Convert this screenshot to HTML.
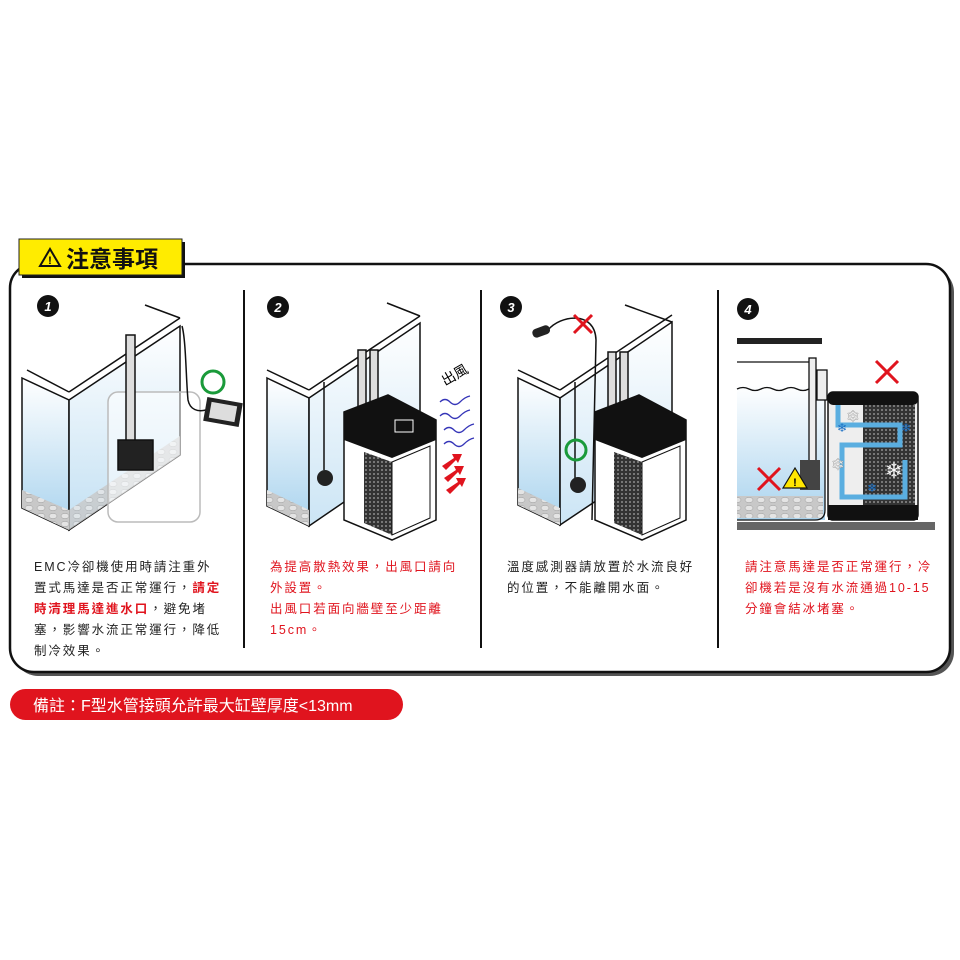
<!DOCTYPE html>
<html><head><meta charset="utf-8"><style>
html,body{margin:0;padding:0;background:#fff;}
svg{display:block;}
text{font-family:"Liberation Sans","Noto Sans CJK TC",sans-serif;}
</style></head><body>
<svg width="960" height="960" viewBox="0 0 960 960" xmlns="http://www.w3.org/2000/svg">
<defs>
<linearGradient id="w" x1="0" y1="0" x2="0" y2="1">
<stop offset="0" stop-color="#fff"/><stop offset="1" stop-color="#a9d3ee"/></linearGradient>
<pattern id="grid" width="4" height="4" patternUnits="userSpaceOnUse">
<rect width="4" height="4" fill="#333"/><rect x="1" y="1" width="2" height="2" fill="#777"/></pattern>
<pattern id="grav" width="12" height="8" patternUnits="userSpaceOnUse">
<rect width="12" height="8" fill="#c8c8c8"/><ellipse cx="5" cy="4" rx="4" ry="2.6" fill="#e4e4e4" stroke="#999" stroke-width=".5"/></pattern>
</defs>

<!-- main panel shadow + panel -->
<rect x="14" y="268" width="940" height="408" rx="24" fill="#555"/>
<rect x="10" y="264" width="940" height="408" rx="24" fill="#fff" stroke="#111" stroke-width="2.5"/>
<!-- title -->
<rect x="22" y="242" width="163" height="36" fill="#111"/>
<rect x="19" y="239" width="163" height="36" fill="#ffec00" stroke="#222" stroke-width="1"/>
<polygon points="40,266 50,249 60,266" fill="none" stroke="#111" stroke-width="2"/>
<text x="50" y="264" font-size="11" font-weight="bold" text-anchor="middle">!</text>
<text x="66" y="267" font-size="23" font-weight="bold" fill="#111">注意事項</text>

<!-- dividers -->
<g stroke="#111" stroke-width="2">
<line x1="244" y1="290" x2="244" y2="648"/>
<line x1="481" y1="290" x2="481" y2="648"/>
<line x1="718" y1="290" x2="718" y2="648"/>
</g>

<!-- number badges -->
<g font-size="13" font-weight="bold" fill="#fff" text-anchor="middle" font-style="italic">
<circle cx="48" cy="306" r="11" fill="#111"/><text x="48" y="311">1</text>
<circle cx="278" cy="307" r="11" fill="#111"/><text x="278" y="312">2</text>
<circle cx="511" cy="307" r="11" fill="#111"/><text x="511" y="312">3</text>
<circle cx="748" cy="309" r="11" fill="#111"/><text x="748" y="314">4</text>
</g>

<!-- PANEL 1 -->
<g stroke="#111" stroke-width="1.5" fill="none">
<polygon points="22,378 69,400 69,530 22,508" fill="url(#w)"/>
<polygon points="69,400 180,326 180,455 69,530" fill="url(#w)" fill-opacity=".7"/>
<polygon points="22,490 69,510 69,530 22,508" fill="url(#grav)" stroke="none"/>
<polygon points="69,510 180,436 180,455 69,530" fill="url(#grav)" stroke="none" opacity=".8"/>
<line x1="27" y1="370" x2="69" y2="392"/><line x1="69" y1="392" x2="180" y2="318"/>
<line x1="145" y1="305" x2="180" y2="318"/>
<rect x="108" y="392" width="92" height="130" rx="10" stroke="#bbb" fill="#fff" fill-opacity=".5"/>
<rect x="126" y="335" width="9" height="110" fill="#ddd"/>
<rect x="118" y="440" width="35" height="30" fill="#222"/>
<path d="M182,326 C186,340 186,380 188,400 C190,410 198,412 206,410"/>
</g>
<rect x="205" y="400" width="36" height="24" fill="#222" transform="rotate(10 223 412)"/>
<rect x="210" y="404" width="26" height="16" fill="#ddd" transform="rotate(10 223 412)"/>
<circle cx="213" cy="382" r="11" fill="none" stroke="#1a9a3a" stroke-width="3"/>

<!-- PANEL 2 -->
<g stroke="#111" stroke-width="1.5" fill="none">
<polygon points="267,378 309,398 309,526 267,506" fill="url(#w)"/>
<polygon points="309,398 420,323 420,450 309,526" fill="url(#w)" fill-opacity=".6"/>
<polygon points="267,490 309,510 309,526 267,506" fill="url(#grav)" stroke="none"/>
<line x1="267" y1="370" x2="309" y2="390"/><line x1="309" y1="390" x2="420" y2="316"/>
<line x1="387" y1="303" x2="420" y2="316"/>
<rect x="358" y="350" width="8" height="60" fill="#ddd"/><rect x="370" y="350" width="8" height="60" fill="#ddd"/>
<line x1="324" y1="382" x2="324" y2="470"/>
</g>
<circle cx="325" cy="478" r="8" fill="#222"/>
<path d="M344,412 L388,395 L436,420 L436,520 L392,540 L344,520 Z" fill="#fff" stroke="#111" stroke-width="1.5"/>
<path d="M344,412 L388,395 L436,420 L436,440 L392,458 L344,440 Z" fill="#111"/>
<polygon points="364,452 392,462 392,535 364,523" fill="url(#grid)"/>
<polygon points="392,462 430,446 430,518 392,535" fill="#fff" stroke="#111"/>
<rect x="395" y="420" width="18" height="12" fill="none" stroke="#fff"/>
<text x="445" y="386" font-size="14" transform="rotate(-30 445 386)">出風</text>
<g fill="none" stroke="#3535b8" stroke-width="1.3">
<path d="M440,402 q5,-5 10,0 t10,0 t10,-6"/><path d="M440,416 q5,-5 10,0 t10,0 t10,-6"/>
<path d="M444,430 q5,-5 10,0 t10,0 t10,-6"/><path d="M444,444 q5,-5 10,0 t10,0 t10,-6"/>
</g>
<g fill="#e0141e"><polygon points="442,466 454,458 452,454 462,454 458,463 456,460 446,470"/>
<polygon points="444,478 456,470 454,466 464,466 460,475 458,472 448,482"/>
<polygon points="446,490 458,482 456,478 466,478 462,487 460,484 450,494"/></g>

<!-- PANEL 3 -->
<g stroke="#111" stroke-width="1.5" fill="none">
<polygon points="518,378 560,398 560,525 518,505" fill="url(#w)"/>
<polygon points="560,398 672,322 672,450 560,525" fill="url(#w)" fill-opacity=".6"/>
<polygon points="518,488 560,508 560,525 518,505" fill="url(#grav)" stroke="none"/>
<line x1="518" y1="370" x2="560" y2="390"/><line x1="560" y1="390" x2="672" y2="315"/>
<line x1="625" y1="305" x2="672" y2="322"/>
<rect x="608" y="352" width="8" height="60" fill="#ddd"/><rect x="620" y="352" width="8" height="60" fill="#ddd"/>
<path d="M548,330 C560,315 595,310 596,340 L592,520"/>
<line x1="575" y1="382" x2="575" y2="478"/>
</g>
<rect x="532" y="327" width="18" height="9" rx="4" fill="#222" transform="rotate(-20 541 331)"/>
<circle cx="578" cy="485" r="8" fill="#222"/>
<path d="M595,412 L639,395 L686,420 L686,520 L642,540 L595,520 Z" fill="#fff" stroke="#111" stroke-width="1.5"/>
<path d="M595,412 L639,395 L686,420 L686,440 L642,458 L595,440 Z" fill="#111"/>
<polygon points="614,452 642,462 642,535 614,523" fill="url(#grid)"/>
<polygon points="642,462 680,446 680,518 642,535" fill="#fff" stroke="#111"/>
<g stroke="#e0141e" stroke-width="3"><line x1="574" y1="315" x2="592" y2="333"/><line x1="592" y1="315" x2="574" y2="333"/></g>
<circle cx="576" cy="450" r="10" fill="none" stroke="#1a9a3a" stroke-width="3"/>

<!-- PANEL 4 -->
<rect x="737" y="338" width="85" height="6" fill="#222"/>
<rect x="737" y="385" width="88" height="135" fill="url(#w)"/>
<rect x="737" y="496" width="86" height="22" fill="url(#grav)"/>
<g stroke="#111" stroke-width="1.3" fill="none">
<line x1="737" y1="362" x2="815" y2="362"/>
<path d="M737,389 q6,-3 12,0 t12,0 t12,0 t12,0 t12,0 t12,0"/>
<path d="M737,520 L815,520 Q825,520 825,510 L825,380"/>
<rect x="809" y="358" width="7" height="125" fill="#eee"/>
<rect x="817" y="370" width="10" height="30" fill="#eee"/>
</g>
<rect x="737" y="522" width="198" height="8" fill="#666"/>
<rect x="828" y="392" width="90" height="128" rx="5" fill="#eee" stroke="#111" stroke-width="1.5"/>
<rect x="828" y="392" width="90" height="13" rx="5" fill="#111"/>
<rect x="828" y="505" width="90" height="15" fill="#111"/>
<rect x="863" y="405" width="52" height="100" fill="url(#grid)"/>
<path d="M838,405 L838,425 L900,425 L900,445 L842,445 L842,497 L905,497 L905,460" fill="none" stroke="#5aaee0" stroke-width="5"/>
<g fill="#1a6fc4" font-size="12" text-anchor="middle"><text x="842" y="432">❄</text><text x="906" y="432">❄</text><text x="872" y="492">❄</text></g>
<g fill="#fff" stroke="#888" stroke-width=".3" font-size="16" text-anchor="middle"><text x="853" y="422">❄</text><text x="838" y="470">❄</text><text x="894" y="478" font-size="22">❄</text></g>
<rect x="800" y="460" width="20" height="30" fill="#444"/>
<polygon points="783,488 795,468 807,488" fill="#ffe600" stroke="#111" stroke-width="1.2"/>
<text x="795" y="486" font-size="11" font-weight="bold" text-anchor="middle">!</text>
<g stroke="#e0141e" stroke-width="3">
<line x1="876" y1="361" x2="898" y2="383"/><line x1="898" y1="361" x2="876" y2="383"/>
<line x1="758" y1="468" x2="780" y2="490"/><line x1="780" y1="468" x2="758" y2="490"/></g>

<!-- texts -->
<g font-size="12.5" letter-spacing="1.9" fill="#222">
<text x="34" y="571">EMC冷卻機使用時請注重外</text>
<text x="34" y="592">置式馬達是否正常運行，<tspan fill="#e0141e" font-weight="bold">請定</tspan></text>
<text x="34" y="613"><tspan fill="#e0141e" font-weight="bold">時清理馬達進水口</tspan>，避免堵</text>
<text x="34" y="634">塞，影響水流正常運行，降低</text>
<text x="34" y="655">制冷效果。</text>
</g>
<g font-size="12.5" letter-spacing="1.9" fill="#e0141e">
<text x="270" y="571">為提高散熱效果，出風口請向</text>
<text x="270" y="592">外設置。</text>
<text x="270" y="613">出風口若面向牆壁至少距離</text>
<text x="270" y="634">15cm。</text>
</g>
<g font-size="12.5" letter-spacing="1.9" fill="#222">
<text x="507" y="571">溫度感測器請放置於水流良好</text>
<text x="507" y="592">的位置，不能離開水面。</text>
</g>
<g font-size="12.5" letter-spacing="1.9" fill="#e0141e">
<text x="745" y="571">請注意馬達是否正常運行，冷</text>
<text x="745" y="592">卻機若是沒有水流通過10-15</text>
<text x="745" y="613">分鐘會結冰堵塞。</text>
</g>

<!-- note pill -->
<rect x="10" y="689" width="393" height="31" rx="15.5" fill="#e0141e"/>
<text x="33" y="711" font-size="16" fill="#fff">備註：F型水管接頭允許最大缸壁厚度&lt;13mm</text>
</svg>
</body></html>
